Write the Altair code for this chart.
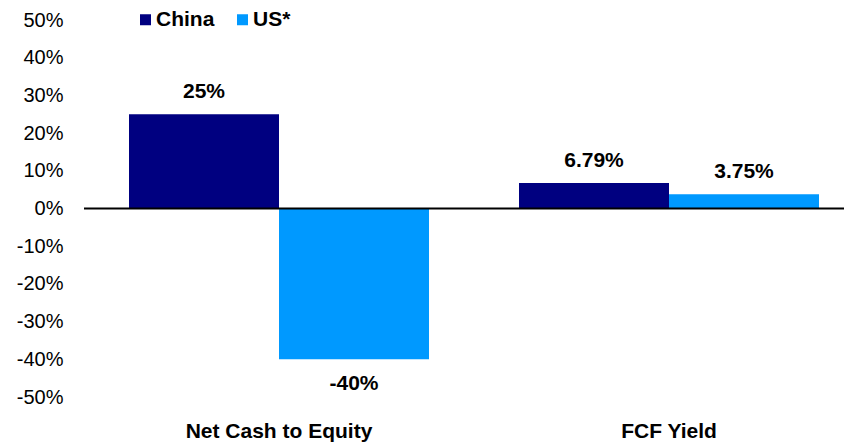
import altair as alt
import pandas as pd

categories = ["Net Cash to Equity", "Net Cash to Equity", "FCF Yield", "FCF Yield"]
series = ["China", "US*", "China", "US*"]
values = [25, -40, 6.79, 3.75]
labels = [f"{v:g}%" for v in values]
y_ticks = [-50, -40, -30, -20, -10, 0, 10, 20, 30, 40, 50]

df = pd.DataFrame({"cat": categories, "series": series, "value": values, "label": labels})

FONT = "Liberation Sans"
cat_order = ["Net Cash to Equity", "FCF Yield"]
ser_order = ["China", "US*"]
colors = ["#000080", "#0099FF"]

x_enc = alt.X("cat:N", sort=cat_order,
              scale=alt.Scale(range=[0, 780], paddingInner=90 / 390, paddingOuter=45 / 390),
              axis=alt.Axis(title=None, domain=False, ticks=False, labelAngle=0,
                            labelFont=FONT, labelFontSize=21, labelFontWeight="bold",
                            labelColor="black", labelPadding=23, labelLimit=0))
xoff = alt.XOffset("series:N", sort=ser_order)
y_enc = alt.Y("value:Q", scale=alt.Scale(domain=[-50, 50], nice=False),
              axis=alt.Axis(title=None, values=y_ticks, grid=False, domain=False, ticks=False,
                            labelOverlap=False, labelBound=False, labelFlush=False,
                            labelExpr="datum.value + '%'", labelFont=FONT, labelFontSize=20,
                            labelColor="black", labelPadding=21))

base = alt.Chart(df)

bars = base.mark_bar().encode(
    x=x_enc, xOffset=xoff, y=y_enc,
    color=alt.Color("series:N", sort=ser_order,
                    scale=alt.Scale(domain=ser_order, range=colors),
                    legend=alt.Legend(title=None, orient="none", legendX=51, legendY=-11,
                                      direction="horizontal", symbolType="square",
                                      symbolSize=121, symbolStrokeWidth=0,
                                      labelFont=FONT, labelFontSize=21, labelFontWeight="bold",
                                      labelColor="black", labelOffset=0, columnPadding=17,
                                      padding=0)),
)

pos_text = base.transform_filter("datum.value >= 0").mark_text(
    font=FONT, fontSize=21, fontWeight="bold", baseline="middle", dy=-22, color="black"
).encode(x=x_enc, xOffset=xoff, y=y_enc, text="label:N")

neg_text = base.transform_filter("datum.value < 0").mark_text(
    font=FONT, fontSize=21, fontWeight="bold", baseline="middle", dy=25, color="black"
).encode(x=x_enc, xOffset=xoff, y=y_enc, text="label:N")

zero = alt.Chart(pd.DataFrame({"value": [0]})).mark_rule(color="black", strokeWidth=2).encode(
    y=y_enc, x=alt.value(0), x2=alt.value(800)
)

chart = alt.layer(bars, zero, pos_text, neg_text).properties(
    width=760, height=377,
    autosize=alt.AutoSizeParams(type="none"),
    padding={"left": 76, "top": 12, "right": 0, "bottom": 45},
).configure_view(stroke=None).configure_axisY(labelOverlap=False)

chart.save("out.html", embed_options={"renderer": "svg", "actions": False})
